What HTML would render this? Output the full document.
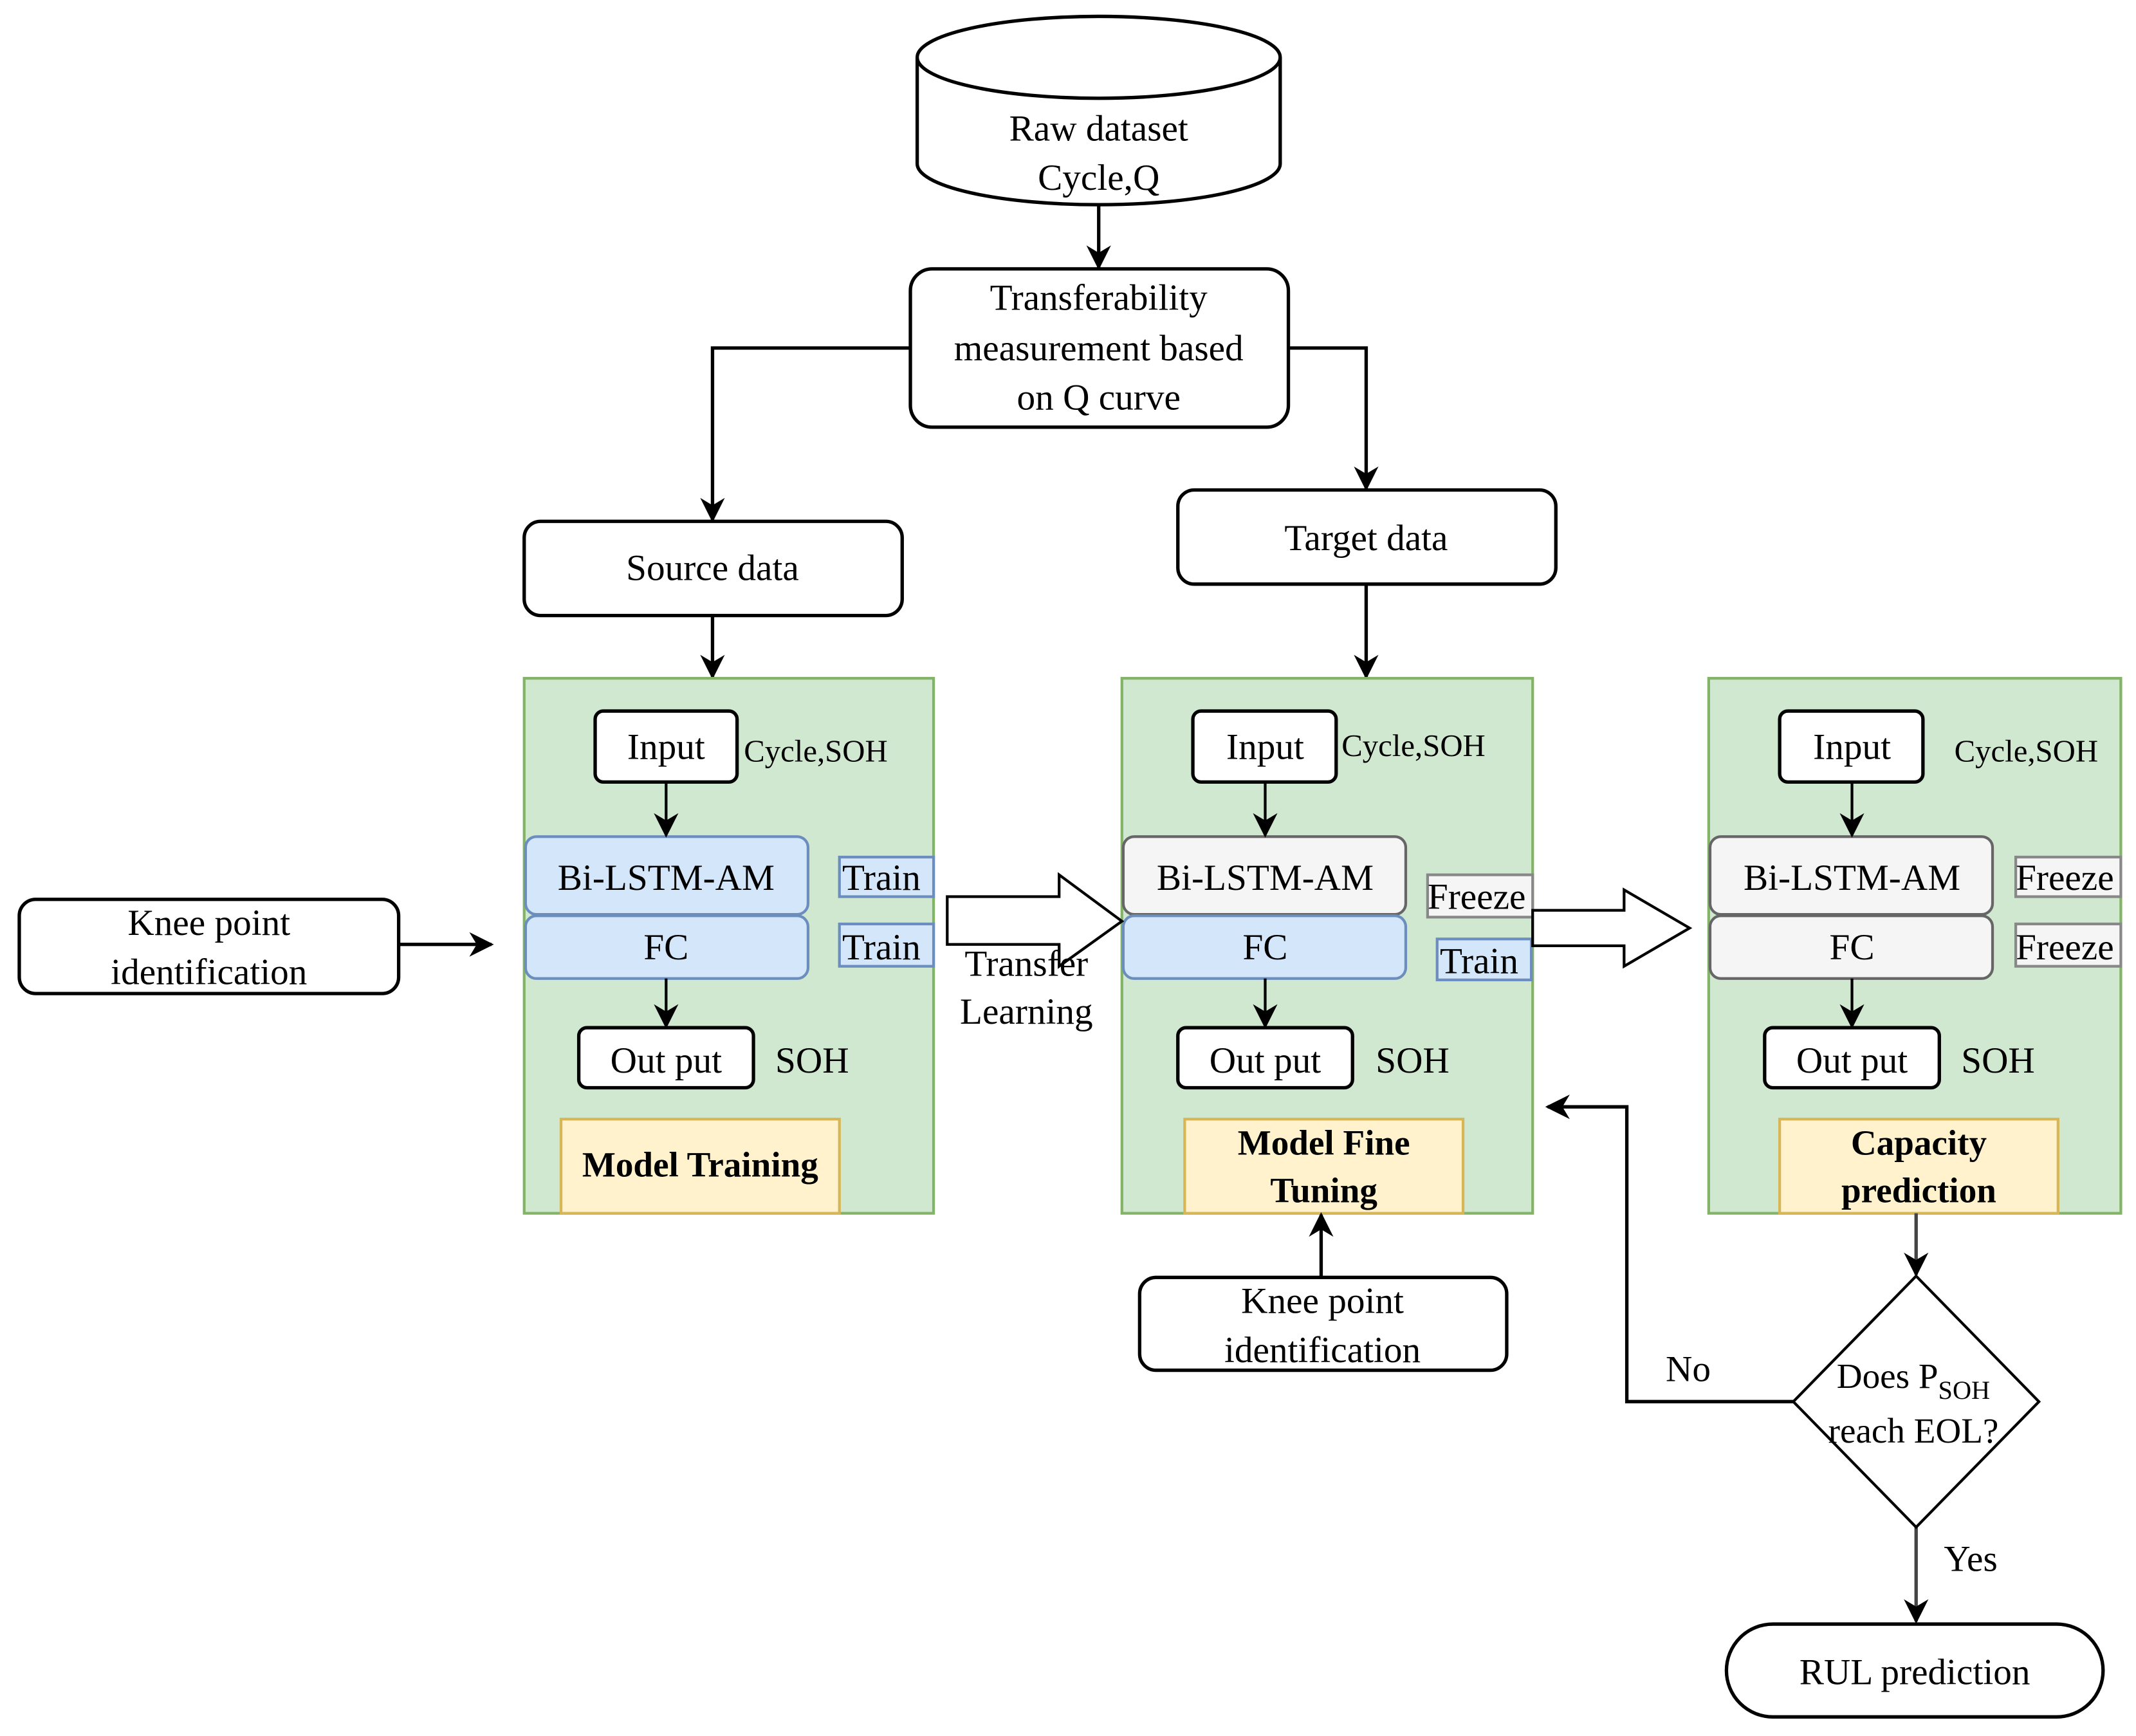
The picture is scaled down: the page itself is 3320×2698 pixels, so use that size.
<!DOCTYPE html>
<html><head><meta charset="utf-8"><style>
html,body{margin:0;padding:0;background:#fff;}
svg{display:block;}
text{font-family:"Liberation Serif",serif;fill:#000;}
</style></head><body>
<svg width="3320" height="2698" viewBox="0 0 1565 1272" xmlns="http://www.w3.org/2000/svg">
<defs>
<marker id="ar" viewBox="0 0 10 10" refX="9" refY="5" markerWidth="7" markerHeight="7" orient="auto" markerUnits="userSpaceOnUse" >
<path d="M0,0 L10,5 L0,10 L3,5 z" fill="#000"/>
</marker>
<marker id="a2" viewBox="0 0 10 10" refX="9" refY="5" markerWidth="18" markerHeight="18" orient="auto" markerUnits="userSpaceOnUse">
<path d="M0,0 L10,5 L0,10 L3,5 z" fill="#000"/>
</marker>
</defs>
<g fill="none" stroke="#000" stroke-width="2.5">
<!-- cylinder -->
<path d="M672,42 L672,120 A133,30 0 0 0 938,120 L938,42" fill="#fff"/>
<ellipse cx="805" cy="42" rx="133" ry="30" fill="#fff"/>
<!-- lines -->
<line x1="805" y1="150" x2="805" y2="196" marker-end="url(#a2)"/>
<polyline points="667,255 522,255 522,381" marker-end="url(#a2)"/>
<polyline points="944,255 1001,255 1001,358" marker-end="url(#a2)"/>
<line x1="522" y1="451" x2="522" y2="496" marker-end="url(#a2)"/>
<line x1="1001" y1="428" x2="1001" y2="496" marker-end="url(#a2)"/>
<rect x="667" y="197" width="277" height="116" rx="16" fill="#fff"/>
<rect x="384" y="382" width="277" height="69" rx="12" fill="#fff"/>
<rect x="863" y="359" width="277" height="69" rx="12" fill="#fff"/>
<rect x="14" y="659" width="278" height="69" rx="12" fill="#fff"/>
<line x1="292" y1="692" x2="360" y2="692" marker-end="url(#a2)"/>
</g>
<!-- panels -->
<g stroke="#82b366" stroke-width="2" fill="#d0e8d0">
<rect x="384" y="497" width="300" height="392"/>
<rect x="822" y="497" width="301" height="392"/>
<rect x="1252" y="497" width="302" height="392"/>
</g>
<g stroke="#d6b656" stroke-width="2" fill="#fff2cc">
<rect x="411" y="820" width="204" height="69"/>
<rect x="868" y="820" width="204" height="69"/>
<rect x="1304" y="820" width="204" height="69"/>
</g>
<!-- layers -->
<g stroke-width="2">
<rect x="385" y="613" width="207" height="57" rx="8" fill="#d4e6fa" stroke="#6c8ebf"/>
<rect x="385" y="671" width="207" height="46" rx="8" fill="#d4e6fa" stroke="#6c8ebf"/>
<rect x="615" y="628" width="69" height="29" fill="#d4e6fa" stroke="#6c8ebf"/>
<rect x="615" y="677" width="69" height="31" fill="#d4e6fa" stroke="#6c8ebf"/>
<rect x="823" y="613" width="207" height="57" rx="8" fill="#f5f5f5" stroke="#666"/>
<rect x="823" y="671" width="207" height="46" rx="8" fill="#d4e6fa" stroke="#6c8ebf"/>
<rect x="1046" y="641" width="77" height="31" fill="#f5f5f5" stroke="#888"/>
<rect x="1053" y="688" width="69" height="30" fill="#d4e6fa" stroke="#6c8ebf"/>
<rect x="1253" y="613" width="207" height="57" rx="8" fill="#f5f5f5" stroke="#666"/>
<rect x="1253" y="671" width="207" height="46" rx="8" fill="#f5f5f5" stroke="#666"/>
<rect x="1477" y="628" width="77" height="29" fill="#f5f5f5" stroke="#888"/>
<rect x="1477" y="677" width="77" height="31" fill="#f5f5f5" stroke="#888"/>
</g>
<g fill="#fff" stroke="#000" stroke-width="2.5">
<rect x="436" y="521" width="104" height="52" rx="6"/>
<rect x="874" y="521" width="105" height="52" rx="6"/>
<rect x="1304" y="521" width="105" height="52" rx="6"/>
<rect x="424" y="753" width="128" height="44" rx="6"/>
<rect x="863" y="753" width="128" height="44" rx="6"/>
<rect x="1293" y="753" width="128" height="44" rx="6"/>
</g>
<g stroke="#000" stroke-width="2" fill="none">
<line x1="488" y1="573" x2="488" y2="612" marker-end="url(#a2)"/>
<line x1="488" y1="717" x2="488" y2="752" marker-end="url(#a2)"/>
<line x1="927" y1="573" x2="927" y2="612" marker-end="url(#a2)"/>
<line x1="927" y1="717" x2="927" y2="752" marker-end="url(#a2)"/>
<line x1="1357" y1="573" x2="1357" y2="612" marker-end="url(#a2)"/>
<line x1="1357" y1="717" x2="1357" y2="752" marker-end="url(#a2)"/>
<!-- hollow arrows -->
<path d="M694,657 L776,657 L776,641 L822,675 L776,708 L776,692 L694,692 Z" fill="#fff"/>
<path d="M1123,667 L1190,667 L1190,652 L1238,680 L1190,708 L1190,693 L1123,693 Z" fill="#fff"/>
<!-- lower flow -->
<line x1="968" y1="936" x2="968" y2="890" marker-end="url(#a2)" stroke-width="2.5"/>
<line x1="1404" y1="889" x2="1404" y2="934" marker-end="url(#a2)" stroke="#444" stroke-width="2.5"/>
<polyline points="1314,1027 1192,1027 1192,811 1134,811" marker-end="url(#a2)" stroke-width="2.5"/>
<line x1="1404" y1="1119" x2="1404" y2="1188" marker-end="url(#a2)" stroke="#444" stroke-width="2.5"/>
<polygon points="1404,935 1494,1027 1404,1119 1314,1027" fill="#fff" stroke-width="2"/>
<rect x="835" y="936" width="269" height="68" rx="12" fill="#fff" stroke-width="2.5"/>
<rect x="1265" y="1190" width="276" height="68" rx="34" fill="#fff" stroke-width="2.5"/>
</g>
<g font-size="27" text-anchor="middle">
<text x="805" y="103">Raw dataset</text>
<text x="805" y="139">Cycle,Q</text>
<text x="805" y="227">Transferability</text>
<text x="805" y="264">measurement based</text>
<text x="805" y="300">on Q curve</text>
<text x="522" y="425">Source data</text>
<text x="1001" y="403">Target data</text>
<text x="153" y="685">Knee point</text>
<text x="153" y="721">identification</text>
<text x="969" y="962">Knee point</text>
<text x="969" y="998">identification</text>
<text x="1403" y="1234">RUL prediction</text>
<text x="752" y="715">Transfer</text>
<text x="752" y="750">Learning</text>
<text x="488" y="556">Input</text>
<text x="927" y="556">Input</text>
<text x="1357" y="556">Input</text>
<text x="488" y="652">Bi-LSTM-AM</text>
<text x="927" y="652">Bi-LSTM-AM</text>
<text x="1357" y="652">Bi-LSTM-AM</text>
<text x="488" y="703">FC</text>
<text x="927" y="703">FC</text>
<text x="1357" y="703">FC</text>
<text x="488" y="786">Out put</text>
<text x="927" y="786">Out put</text>
<text x="1357" y="786">Out put</text>
<text x="1237" y="1012">No</text>
<text x="1444" y="1151">Yes</text>
</g>
<g font-size="27" text-anchor="start">
<text x="568" y="786">SOH</text>
<text x="1008" y="786">SOH</text>
<text x="1437" y="786">SOH</text>
<text x="617" y="652">Train</text>
<text x="617" y="703">Train</text>
<text x="1055" y="713">Train</text>
<text x="1046" y="666">Freeze</text>
<text x="1477" y="652">Freeze</text>
<text x="1477" y="703">Freeze</text>
</g>
<g font-size="23">
<text x="545" y="558">Cycle,SOH</text>
<text x="983" y="554">Cycle,SOH</text>
<text x="1432" y="558">Cycle,SOH</text>
</g>
<g font-size="26" font-weight="bold" text-anchor="middle">
<text x="513" y="862">Model  Training</text>
<text x="970" y="846">Model Fine</text>
<text x="970" y="881">Tuning</text>
<text x="1406" y="846">Capacity</text>
<text x="1406" y="881">prediction</text>
</g>
<g font-size="26" text-anchor="middle">
<text x="1402" y="1017">Does P<tspan font-size="19" dy="8">SOH</tspan></text>
<text x="1402" y="1057">reach EOL?</text>
</g>
</svg>
</body></html>
